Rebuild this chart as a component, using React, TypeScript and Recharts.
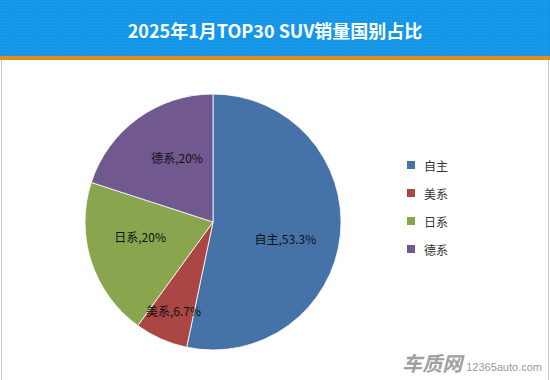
import { PieChart, Pie, Cell } from "recharts";

const CATEGORIES = ["自主", "美系", "日系", "德系"];
const SHARES = [53.3, 6.7, 20, 20];
const SHARE_LABELS = ["53.3%", "6.7%", "20%", "20%"];
const COLORS = ["#4572a7", "#aa4643", "#89a54e", "#71588f"];

const TITLE = "2025年1月TOP30 SUV销量国别占比";
const FONT = "'Noto Sans CJK SC', 'Microsoft YaHei', sans-serif";

const data = CATEGORIES.map((name, i) => ({ name, value: SHARES[i], label: SHARE_LABELS[i] }));

const RAD = Math.PI / 180;

const SliceLabel = ({ cx, cy, midAngle, outerRadius, index }: any) => {
  const d = data[index];
  // Excel "best fit": small slices pushed outward, big ones nudged a bit clockwise
  const small = d.value < 10;
  const r = outerRadius * (small ? 0.76 : 0.58);
  const a = small ? midAngle : midAngle - 7;
  const x = cx + r * Math.cos(-a * RAD);
  const y = cy + r * Math.sin(-a * RAD);
  return (
    <text
      x={x}
      y={y}
      textAnchor="middle"
      dominantBaseline="central"
      fill="#111"
      fontSize={12}
      fontFamily={FONT}
    >
      {`${d.name},${d.label}`}
    </text>
  );
};

export default function App() {
  return (
    <div
      style={{
        position: "absolute",
        left: 0,
        top: 0,
        width: 550,
        height: 380,
        background: "#fff",
        fontFamily: FONT,
        overflow: "hidden",
      }}
    >
      <div
        style={{
          height: 56,
          background: "#1396e8",
          backgroundImage:
            "radial-gradient(rgba(255,255,255,0.10) 1px, transparent 1px)",
          backgroundSize: "3px 3px",
          color: "#fff",
          fontWeight: 700,
          fontSize: 18,
          lineHeight: "60px",
          textAlign: "center",
        }}
      >
        {TITLE}
      </div>
      <div style={{ height: 4, background: "#e38c1d" }} />
      <div
        style={{
          position: "absolute",
          left: 1,
          top: 60,
          width: 546,
          height: 320,
          borderLeft: "1px solid #c8c8c8",
          borderRight: "1px solid #c8c8c8",
        }}
      />
      <div style={{ position: "absolute", left: 0, top: 60 }}>
        <PieChart width={550} height={320} margin={{ top: 0, right: 0, bottom: 0, left: 0 }}>
          <Pie
            data={data}
            dataKey="value"
            nameKey="name"
            cx={213}
            cy={162}
            outerRadius={128}
            startAngle={90}
            endAngle={-270}
            stroke="#ffffff"
            strokeWidth={0.8}
            label={SliceLabel}
            labelLine={false}
            isAnimationActive={false}
          >
            {data.map((d, i) => (
              <Cell key={d.name} fill={COLORS[i]} />
            ))}
          </Pie>
        </PieChart>
      </div>
      <div style={{ position: "absolute", left: 407, top: 151 }}>
        {CATEGORIES.map((c, i) => (
          <div
            key={c}
            style={{ display: "flex", alignItems: "center", height: 28, fontSize: 12, color: "#333" }}
          >
            <span
              style={{ width: 8, height: 8, background: COLORS[i], marginRight: 9, display: "inline-block" }}
            />
            <span>{c}</span>
          </div>
        ))}
      </div>
      <div
        style={{
          position: "absolute",
          right: 8,
          bottom: 3,
          display: "flex",
          alignItems: "baseline",
          color: "#9a9a9a",
        }}
      >
        <span style={{ fontSize: 20, fontWeight: 700, fontStyle: "italic", marginRight: 4, color: "#a0a0a0" }}>
          车质网
        </span>
        <span style={{ fontSize: 11, fontFamily: "Arial, 'Liberation Sans', sans-serif" }}>12365auto.com</span>
      </div>
    </div>
  );
}
